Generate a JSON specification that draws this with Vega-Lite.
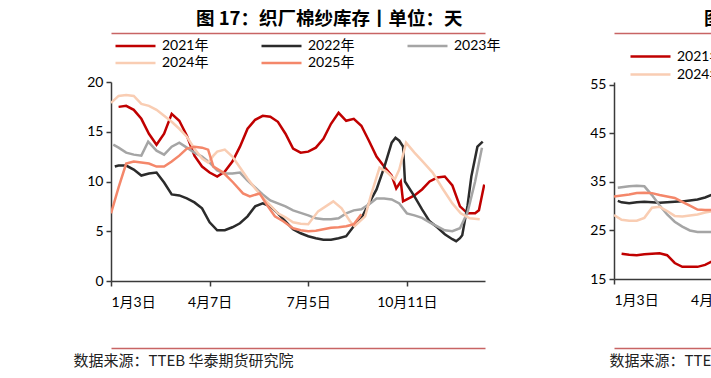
{
  "$schema": "https://vega.github.io/schema/vega-lite/v6.json",
  "autosize": {"type": "none"},
  "padding": {"left": 111, "top": 82, "right": 600, "bottom": 296},
  "background": "white",
  "spacing": 129,
  "bounds": "flush",
  "config": {
    "font": "Lato, Noto Sans CJK SC",
    "view": {"stroke": null},
    "axis": {"labelFont": "Lato, Noto Sans CJK SC", "labelFontSize": 14, "labelColor": "#000000", "domainColor": "#3a3a3a", "domainWidth": 1.5, "tickColor": "#3a3a3a", "tickWidth": 1.5, "tickSize": 5, "grid": false},
    "legend": {"orient": "none", "direction": "horizontal", "symbolType": "stroke", "symbolSize": 1600, "labelFontSize": 14, "labelFont": "Lato, Noto Sans CJK SC", "labelColor": "#000000", "labelOffset": 5, "padding": 0, "title": null, "clipHeight": 15},
    "title": {"font": "Noto Sans CJK SC", "fontSize": 18.5, "fontWeight": "bold", "color": "#000000"}
  },
  "datasets": {
    "main": [
      {"s": "2021年", "w": 1, "v": 17.5}, {"s": "2021年", "w": 2, "v": 17.6}, {"s": "2021年", "w": 3, "v": 17.2}, {"s": "2021年", "w": 4, "v": 16.3}, {"s": "2021年", "w": 5, "v": 14.8}, {"s": "2021年", "w": 6, "v": 13.7}, {"s": "2021年", "w": 7, "v": 14.8}, {"s": "2021年", "w": 8, "v": 16.8}, {"s": "2021年", "w": 9, "v": 16.1}, {"s": "2021年", "w": 10, "v": 14.6}, {"s": "2021年", "w": 11, "v": 12.6}, {"s": "2021年", "w": 12, "v": 11.5}, {"s": "2021年", "w": 13, "v": 10.9}, {"s": "2021年", "w": 14, "v": 10.5}, {"s": "2021年", "w": 15, "v": 11.0}, {"s": "2021年", "w": 16, "v": 12.0}, {"s": "2021年", "w": 17, "v": 13.5}, {"s": "2021年", "w": 18, "v": 15.3}, {"s": "2021年", "w": 19, "v": 16.2}, {"s": "2021年", "w": 20, "v": 16.6}, {"s": "2021年", "w": 21, "v": 16.5}, {"s": "2021年", "w": 22, "v": 16.0}, {"s": "2021年", "w": 23, "v": 14.8}, {"s": "2021年", "w": 24, "v": 13.3}, {"s": "2021年", "w": 25, "v": 12.9}, {"s": "2021年", "w": 26, "v": 13.0}, {"s": "2021年", "w": 27, "v": 13.4}, {"s": "2021年", "w": 28, "v": 14.3}, {"s": "2021年", "w": 29, "v": 15.8}, {"s": "2021年", "w": 30, "v": 16.9}, {"s": "2021年", "w": 31, "v": 16.1}, {"s": "2021年", "w": 32, "v": 16.3}, {"s": "2021年", "w": 33, "v": 15.6}, {"s": "2021年", "w": 34, "v": 14.1}, {"s": "2021年", "w": 35, "v": 12.5}, {"s": "2021年", "w": 36, "v": 11.5}, {"s": "2021年", "w": 37, "v": 10.6}, {"s": "2021年", "w": 37.6, "v": 9.3}, {"s": "2021年", "w": 38.2, "v": 10.0}, {"s": "2021年", "w": 38.5, "v": 8.0}, {"s": "2021年", "w": 39, "v": 8.2}, {"s": "2021年", "w": 40, "v": 8.6}, {"s": "2021年", "w": 41, "v": 9.2}, {"s": "2021年", "w": 42, "v": 10.0}, {"s": "2021年", "w": 43, "v": 10.4}, {"s": "2021年", "w": 44, "v": 10.5}, {"s": "2021年", "w": 45, "v": 9.6}, {"s": "2021年", "w": 46, "v": 7.5}, {"s": "2021年", "w": 47, "v": 6.8}, {"s": "2021年", "w": 48, "v": 6.8}, {"s": "2021年", "w": 48.5, "v": 7.1}, {"s": "2021年", "w": 49.2, "v": 9.7},
      {"s": "2022年", "w": 0.5, "v": 11.5}, {"s": "2022年", "w": 1, "v": 11.6}, {"s": "2022年", "w": 2, "v": 11.6}, {"s": "2022年", "w": 3, "v": 11.2}, {"s": "2022年", "w": 4, "v": 10.6}, {"s": "2022年", "w": 5, "v": 10.8}, {"s": "2022年", "w": 6, "v": 10.9}, {"s": "2022年", "w": 7, "v": 9.9}, {"s": "2022年", "w": 8, "v": 8.7}, {"s": "2022年", "w": 9, "v": 8.6}, {"s": "2022年", "w": 10, "v": 8.3}, {"s": "2022年", "w": 11, "v": 7.9}, {"s": "2022年", "w": 12, "v": 7.3}, {"s": "2022年", "w": 13, "v": 5.9}, {"s": "2022年", "w": 14, "v": 5.1}, {"s": "2022年", "w": 15, "v": 5.1}, {"s": "2022年", "w": 16, "v": 5.4}, {"s": "2022年", "w": 17, "v": 5.8}, {"s": "2022年", "w": 18, "v": 6.5}, {"s": "2022年", "w": 19, "v": 7.5}, {"s": "2022年", "w": 20, "v": 7.8}, {"s": "2022年", "w": 21, "v": 7.5}, {"s": "2022年", "w": 22, "v": 6.8}, {"s": "2022年", "w": 23, "v": 6.0}, {"s": "2022年", "w": 24, "v": 5.2}, {"s": "2022年", "w": 25, "v": 4.8}, {"s": "2022年", "w": 26, "v": 4.5}, {"s": "2022年", "w": 27, "v": 4.3}, {"s": "2022年", "w": 28, "v": 4.15}, {"s": "2022年", "w": 29, "v": 4.15}, {"s": "2022年", "w": 30, "v": 4.3}, {"s": "2022年", "w": 31, "v": 4.5}, {"s": "2022年", "w": 32, "v": 5.5}, {"s": "2022年", "w": 33, "v": 6.3}, {"s": "2022年", "w": 34, "v": 7.8}, {"s": "2022年", "w": 35, "v": 9.2}, {"s": "2022年", "w": 36, "v": 11.4}, {"s": "2022年", "w": 37, "v": 13.9}, {"s": "2022年", "w": 37.5, "v": 14.4}, {"s": "2022年", "w": 38, "v": 14.1}, {"s": "2022年", "w": 38.5, "v": 13.5}, {"s": "2022年", "w": 38.75, "v": 10.0}, {"s": "2022年", "w": 40, "v": 8.5}, {"s": "2022年", "w": 41, "v": 7.2}, {"s": "2022年", "w": 42, "v": 6.0}, {"s": "2022年", "w": 43, "v": 5.4}, {"s": "2022年", "w": 44, "v": 4.7}, {"s": "2022年", "w": 45, "v": 4.2}, {"s": "2022年", "w": 45.5, "v": 4.0}, {"s": "2022年", "w": 46, "v": 4.3}, {"s": "2022年", "w": 46.3, "v": 4.6}, {"s": "2022年", "w": 47, "v": 7.6}, {"s": "2022年", "w": 47.5, "v": 10.5}, {"s": "2022年", "w": 48.3, "v": 13.5}, {"s": "2022年", "w": 49, "v": 14.0},
      {"s": "2023年", "w": 0.3, "v": 13.7}, {"s": "2023年", "w": 1, "v": 13.4}, {"s": "2023年", "w": 2, "v": 12.9}, {"s": "2023年", "w": 3, "v": 12.7}, {"s": "2023年", "w": 4, "v": 12.6}, {"s": "2023年", "w": 4.9, "v": 14.0}, {"s": "2023年", "w": 6, "v": 13.1}, {"s": "2023年", "w": 7, "v": 12.7}, {"s": "2023年", "w": 8, "v": 13.5}, {"s": "2023年", "w": 9, "v": 13.9}, {"s": "2023年", "w": 10, "v": 13.4}, {"s": "2023年", "w": 11, "v": 12.9}, {"s": "2023年", "w": 12, "v": 12.5}, {"s": "2023年", "w": 13, "v": 11.9}, {"s": "2023年", "w": 14, "v": 11.1}, {"s": "2023年", "w": 15, "v": 10.8}, {"s": "2023年", "w": 16, "v": 10.8}, {"s": "2023年", "w": 17, "v": 10.9}, {"s": "2023年", "w": 18, "v": 10.1}, {"s": "2023年", "w": 19, "v": 9.4}, {"s": "2023年", "w": 20, "v": 8.7}, {"s": "2023年", "w": 21, "v": 8.1}, {"s": "2023年", "w": 22, "v": 7.8}, {"s": "2023年", "w": 23, "v": 7.5}, {"s": "2023年", "w": 24, "v": 7.1}, {"s": "2023年", "w": 25, "v": 6.85}, {"s": "2023年", "w": 26, "v": 6.6}, {"s": "2023年", "w": 27, "v": 6.3}, {"s": "2023年", "w": 28, "v": 6.2}, {"s": "2023年", "w": 29, "v": 6.2}, {"s": "2023年", "w": 30, "v": 6.3}, {"s": "2023年", "w": 31, "v": 6.8}, {"s": "2023年", "w": 32, "v": 7.1}, {"s": "2023年", "w": 33, "v": 7.2}, {"s": "2023年", "w": 34, "v": 7.7}, {"s": "2023年", "w": 35, "v": 8.3}, {"s": "2023年", "w": 36, "v": 8.3}, {"s": "2023年", "w": 37, "v": 8.2}, {"s": "2023年", "w": 38, "v": 7.8}, {"s": "2023年", "w": 39, "v": 6.8}, {"s": "2023年", "w": 40, "v": 6.6}, {"s": "2023年", "w": 41, "v": 6.35}, {"s": "2023年", "w": 42, "v": 5.9}, {"s": "2023年", "w": 43, "v": 5.5}, {"s": "2023年", "w": 44, "v": 5.1}, {"s": "2023年", "w": 45, "v": 5.0}, {"s": "2023年", "w": 46, "v": 5.3}, {"s": "2023年", "w": 47, "v": 6.9}, {"s": "2023年", "w": 48, "v": 10.0}, {"s": "2023年", "w": 48.9, "v": 13.4},
      {"s": "2024年", "w": 0, "v": 17.9}, {"s": "2024年", "w": 1, "v": 18.6}, {"s": "2024年", "w": 2, "v": 18.7}, {"s": "2024年", "w": 3, "v": 18.6}, {"s": "2024年", "w": 4, "v": 17.8}, {"s": "2024年", "w": 5, "v": 17.6}, {"s": "2024年", "w": 6, "v": 17.2}, {"s": "2024年", "w": 7, "v": 16.6}, {"s": "2024年", "w": 8, "v": 16.0}, {"s": "2024年", "w": 9, "v": 15.3}, {"s": "2024年", "w": 10, "v": 14.5}, {"s": "2024年", "w": 11, "v": 13.3}, {"s": "2024年", "w": 12, "v": 12.3}, {"s": "2024年", "w": 12.8, "v": 11.9}, {"s": "2024年", "w": 13.5, "v": 12.6}, {"s": "2024年", "w": 14, "v": 13.0}, {"s": "2024年", "w": 15, "v": 13.2}, {"s": "2024年", "w": 16, "v": 12.5}, {"s": "2024年", "w": 17, "v": 11.4}, {"s": "2024年", "w": 18, "v": 10.3}, {"s": "2024年", "w": 19, "v": 9.3}, {"s": "2024年", "w": 20, "v": 8.4}, {"s": "2024年", "w": 21, "v": 7.6}, {"s": "2024年", "w": 22, "v": 6.8}, {"s": "2024年", "w": 23, "v": 6.4}, {"s": "2024年", "w": 24, "v": 5.9}, {"s": "2024年", "w": 25, "v": 5.75}, {"s": "2024年", "w": 26, "v": 5.7}, {"s": "2024年", "w": 27.3, "v": 7.0}, {"s": "2024年", "w": 29.3, "v": 8.0}, {"s": "2024年", "w": 30.4, "v": 7.3}, {"s": "2024年", "w": 31.5, "v": 6.0}, {"s": "2024年", "w": 32.1, "v": 5.5}, {"s": "2024年", "w": 33.5, "v": 6.5}, {"s": "2024年", "w": 34.3, "v": 8.7}, {"s": "2024年", "w": 35.4, "v": 11.4}, {"s": "2024年", "w": 36.3, "v": 11.0}, {"s": "2024年", "w": 37.4, "v": 10.2}, {"s": "2024年", "w": 38, "v": 11.2}, {"s": "2024年", "w": 38.9, "v": 13.9}, {"s": "2024年", "w": 40, "v": 12.9}, {"s": "2024年", "w": 41.1, "v": 12.0}, {"s": "2024年", "w": 42.4, "v": 10.9}, {"s": "2024年", "w": 43.7, "v": 9.3}, {"s": "2024年", "w": 45, "v": 7.8}, {"s": "2024年", "w": 46.1, "v": 6.8}, {"s": "2024年", "w": 47.3, "v": 6.3}, {"s": "2024年", "w": 48.6, "v": 6.2},
      {"s": "2025年", "w": 0, "v": 6.8}, {"s": "2025年", "w": 1, "v": 9.4}, {"s": "2025年", "w": 2, "v": 11.8}, {"s": "2025年", "w": 3, "v": 12.0}, {"s": "2025年", "w": 4, "v": 11.9}, {"s": "2025年", "w": 5, "v": 11.8}, {"s": "2025年", "w": 6, "v": 11.5}, {"s": "2025年", "w": 7, "v": 11.5}, {"s": "2025年", "w": 8, "v": 12.0}, {"s": "2025年", "w": 9, "v": 12.6}, {"s": "2025年", "w": 10, "v": 13.3}, {"s": "2025年", "w": 11, "v": 13.5}, {"s": "2025年", "w": 12, "v": 13.4}, {"s": "2025年", "w": 12.8, "v": 13.2}, {"s": "2025年", "w": 13.5, "v": 11.5}, {"s": "2025年", "w": 14.8, "v": 10.9}, {"s": "2025年", "w": 16.1, "v": 9.9}, {"s": "2025年", "w": 17.4, "v": 8.8}, {"s": "2025年", "w": 18.3, "v": 8.5}, {"s": "2025年", "w": 19.6, "v": 8.8}, {"s": "2025年", "w": 20.5, "v": 7.7}, {"s": "2025年", "w": 21.6, "v": 6.5}, {"s": "2025年", "w": 22.7, "v": 6.0}, {"s": "2025年", "w": 24, "v": 5.3}, {"s": "2025年", "w": 25, "v": 5.1}, {"s": "2025年", "w": 26, "v": 5.0}, {"s": "2025年", "w": 27, "v": 5.05}, {"s": "2025年", "w": 28, "v": 5.2}, {"s": "2025年", "w": 29, "v": 5.35}, {"s": "2025年", "w": 30, "v": 5.4}, {"s": "2025年", "w": 31, "v": 5.5}, {"s": "2025年", "w": 32, "v": 5.7}, {"s": "2025年", "w": 33, "v": 6.7}
    ],
    "right": [
      {"s": "2021年", "w": 1, "v": 20.2}, {"s": "2021年", "w": 2, "v": 20.0}, {"s": "2021年", "w": 3, "v": 19.9}, {"s": "2021年", "w": 4, "v": 20.1}, {"s": "2021年", "w": 5, "v": 20.2}, {"s": "2021年", "w": 6, "v": 20.3}, {"s": "2021年", "w": 7, "v": 19.9}, {"s": "2021年", "w": 8, "v": 18.3}, {"s": "2021年", "w": 9, "v": 17.5}, {"s": "2021年", "w": 10, "v": 17.5}, {"s": "2021年", "w": 11, "v": 17.5}, {"s": "2021年", "w": 12, "v": 17.9}, {"s": "2021年", "w": 13, "v": 18.7},
      {"s": "2022年", "w": 0.5, "v": 31.1}, {"s": "2022年", "w": 1, "v": 30.8}, {"s": "2022年", "w": 2, "v": 30.6}, {"s": "2022年", "w": 3, "v": 30.8}, {"s": "2022年", "w": 4, "v": 30.9}, {"s": "2022年", "w": 5, "v": 30.8}, {"s": "2022年", "w": 6, "v": 30.7}, {"s": "2022年", "w": 7, "v": 30.8}, {"s": "2022年", "w": 8, "v": 30.9}, {"s": "2022年", "w": 9, "v": 31.0}, {"s": "2022年", "w": 10, "v": 31.2}, {"s": "2022年", "w": 11, "v": 31.4}, {"s": "2022年", "w": 12, "v": 31.8}, {"s": "2022年", "w": 13, "v": 32.4},
      {"s": "2023年", "w": 0.5, "v": 33.8}, {"s": "2023年", "w": 1, "v": 33.9}, {"s": "2023年", "w": 2, "v": 34.1}, {"s": "2023年", "w": 3, "v": 34.2}, {"s": "2023年", "w": 4, "v": 34.1}, {"s": "2023年", "w": 5, "v": 32.3}, {"s": "2023年", "w": 6, "v": 30.2}, {"s": "2023年", "w": 7, "v": 28.3}, {"s": "2023年", "w": 8, "v": 26.8}, {"s": "2023年", "w": 9, "v": 25.8}, {"s": "2023年", "w": 10, "v": 25.0}, {"s": "2023年", "w": 11, "v": 24.7}, {"s": "2023年", "w": 12, "v": 24.7}, {"s": "2023年", "w": 13, "v": 24.7},
      {"s": "2024年", "w": 0, "v": 28.2}, {"s": "2024年", "w": 1, "v": 27.2}, {"s": "2024年", "w": 2, "v": 27.0}, {"s": "2024年", "w": 3, "v": 27.0}, {"s": "2024年", "w": 4, "v": 27.6}, {"s": "2024年", "w": 5, "v": 29.7}, {"s": "2024年", "w": 6, "v": 29.9}, {"s": "2024年", "w": 7, "v": 29.0}, {"s": "2024年", "w": 8, "v": 28.0}, {"s": "2024年", "w": 9, "v": 27.9}, {"s": "2024年", "w": 10, "v": 28.1}, {"s": "2024年", "w": 11, "v": 28.3}, {"s": "2024年", "w": 12, "v": 28.7}, {"s": "2024年", "w": 13, "v": 29.0},
      {"s": "2025年", "w": 0, "v": 32.0}, {"s": "2025年", "w": 1, "v": 32.2}, {"s": "2025年", "w": 2, "v": 32.4}, {"s": "2025年", "w": 3, "v": 32.7}, {"s": "2025年", "w": 4, "v": 32.8}, {"s": "2025年", "w": 5, "v": 32.7}, {"s": "2025年", "w": 6, "v": 32.3}, {"s": "2025年", "w": 7, "v": 32.0}, {"s": "2025年", "w": 8, "v": 31.7}, {"s": "2025年", "w": 9, "v": 30.9}, {"s": "2025年", "w": 10, "v": 30.1}, {"s": "2025年", "w": 11, "v": 29.3}, {"s": "2025年", "w": 12, "v": 29.2}, {"s": "2025年", "w": 13, "v": 29.2}
    ]
  },
  "resolve": {"scale": {"color": "independent", "strokeWidth": "independent", "x": "independent", "y": "independent"}, "legend": {"color": "independent", "strokeWidth": "independent"}},
  "hconcat": [
    {
      "width": 374,
      "height": 199,
      "title": {"text": "图 17：织厂棉纱库存丨单位：天", "anchor": "start", "frame": "group", "dx": 85, "offset": 5},
      "data": {"name": "main"},
      "resolve": {"axis": {"x": "independent"}},
      "layer": [
        {
          "mark": {"type": "line", "clip": true},
          "encoding": {
            "x": {"field": "w", "type": "quantitative", "scale": {"domain": [0, 49.3], "nice": false, "zero": false},
                  "axis": {"orient": "bottom", "values": [0, 13, 26, 39], "labelPadding": 9, "title": null,
                           "labelExpr": "datum.value == 0 ? '1月3日' : datum.value == 13 ? '4月7日' : datum.value == 26 ? '7月5日' : '10月11日'"}},
            "y": {"field": "v", "type": "quantitative", "scale": {"domain": [0, 20], "nice": false},
                  "axis": {"values": [0, 5, 10, 15, 20], "title": null, "labelPadding": 3}},
            "color": {"field": "s", "type": "nominal",
                      "scale": {"domain": ["2021年", "2022年", "2023年", "2024年", "2025年"], "range": ["#C00000", "#2B2B2B", "#A5A5A5", "#F9CDB3", "#F4876A"]},
                      "legend": {"columns": 3, "columnPadding": 51, "rowPadding": 2, "legendX": 3, "legendY": -43.5}},
            "strokeWidth": {"field": "s", "type": "nominal",
                      "scale": {"domain": ["2021年", "2022年", "2023年", "2024年", "2025年"], "range": [2.5, 2.5, 2.5, 4, 4]},
                      "legend": {"columns": 3, "columnPadding": 51, "rowPadding": 2, "legendX": 3, "legendY": -43.5}}
          }
        },
        {
          "mark": {"type": "line", "strokeOpacity": 0},
          "encoding": {
            "x": {"field": "w", "type": "quantitative", "axis": {"orient": "top", "offset": 49, "domainColor": "#C86464", "domainWidth": 1.5, "labels": false, "ticks": false, "title": null}},
            "y": {"field": "v", "type": "quantitative"}
          }
        },
        {
          "mark": {"type": "line", "strokeOpacity": 0},
          "encoding": {
            "x": {"field": "w", "type": "quantitative", "axis": {"orient": "bottom", "offset": 67, "domainColor": "#C86464", "domainWidth": 1.5, "labels": false, "ticks": false,
                  "title": "数据来源：TTEB 华泰期货研究院", "titleX": -38, "titleY": 12, "titleAlign": "left", "titleBaseline": "middle", "titleFont": "Noto Sans CJK SC", "titleFontSize": 15, "titleFontWeight": "normal", "titleColor": "#222222"}},
            "y": {"field": "v", "type": "quantitative"}
          }
        }
      ]
    },
    {
      "width": 200,
      "height": 197,
      "title": {"text": "图 18：纺企棉纱库存丨单位：天", "anchor": "start", "frame": "group", "dx": 90, "offset": 5},
      "data": {"name": "right"},
      "resolve": {"axis": {"x": "independent"}},
      "layer": [
        {
          "mark": {"type": "line", "clip": true},
          "encoding": {
            "x": {"field": "w", "type": "quantitative", "scale": {"domain": [0, 26.35], "nice": false, "zero": false},
                  "axis": {"orient": "bottom", "values": [0, 13], "labelPadding": 9, "title": null,
                           "labelExpr": "datum.value == 0 ? '1月3日' : '4月7日'"}},
            "y": {"field": "v", "type": "quantitative", "scale": {"domain": [15, 55.6], "nice": false, "zero": false},
                  "axis": {"values": [15, 25, 35, 45, 55], "title": null, "labelPadding": 3}},
            "color": {"field": "s", "type": "nominal",
                      "scale": {"domain": ["2021年", "2022年", "2023年", "2024年", "2025年"], "range": ["#C00000", "#2B2B2B", "#A5A5A5", "#F9CDB3", "#F4876A"]},
                      "legend": {"values": ["2021年", "2024年"], "columns": 1, "rowPadding": 3, "legendX": 15, "legendY": -33}},
            "strokeWidth": {"field": "s", "type": "nominal",
                      "scale": {"domain": ["2021年", "2022年", "2023年", "2024年", "2025年"], "range": [2.5, 2.5, 2.5, 4, 4]},
                      "legend": {"values": ["2021年", "2024年"], "columns": 1, "rowPadding": 3, "legendX": 15, "legendY": -33}}
          }
        },
        {
          "mark": {"type": "line", "strokeOpacity": 0},
          "encoding": {
            "x": {"field": "w", "type": "quantitative", "axis": {"orient": "top", "offset": 49, "domainColor": "#C86464", "domainWidth": 1.5, "labels": false, "ticks": false, "title": null}},
            "y": {"field": "v", "type": "quantitative"}
          }
        },
        {
          "mark": {"type": "line", "strokeOpacity": 0},
          "encoding": {
            "x": {"field": "w", "type": "quantitative", "axis": {"orient": "bottom", "offset": 69, "domainColor": "#C86464", "domainWidth": 1.5, "labels": false, "ticks": false,
                  "title": "数据来源：TTEB 华泰期货研究院", "titleX": -5, "titleY": 12, "titleAlign": "left", "titleBaseline": "middle", "titleFont": "Noto Sans CJK SC", "titleFontSize": 15, "titleFontWeight": "normal", "titleColor": "#222222"}},
            "y": {"field": "v", "type": "quantitative"}
          }
        }
      ]
    }
  ]
}
